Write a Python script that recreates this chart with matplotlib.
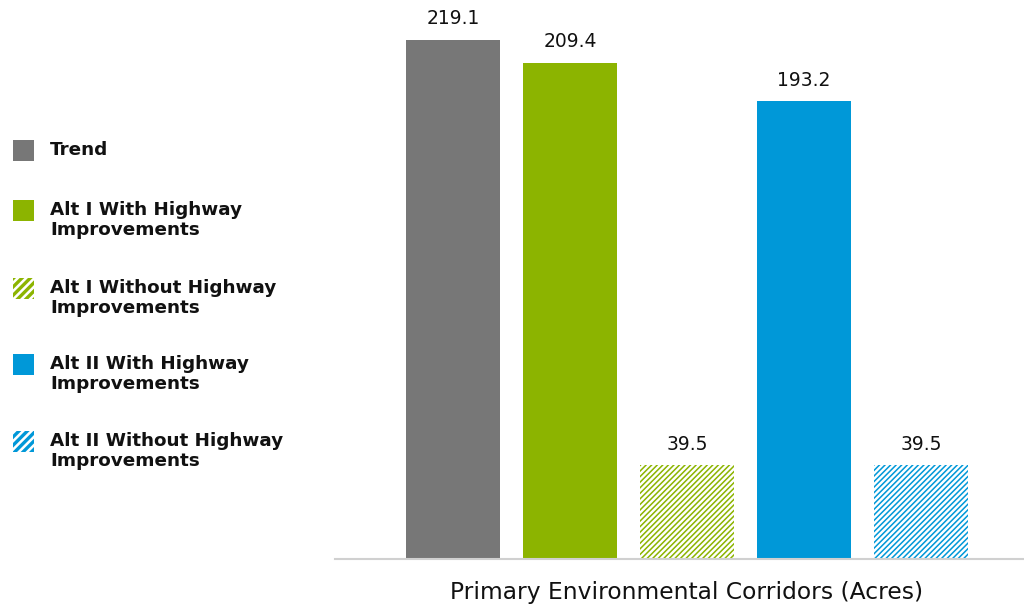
import matplotlib.pyplot as plt
from matplotlib.patches import Rectangle

# data
labels = ['Trend', 'Alt I With Highway\nImprovements', 'Alt I Without Highway\nImprovements',
          'Alt II With Highway\nImprovements', 'Alt II Without Highway\nImprovements']
values = [219.1, 209.4, 39.5, 193.2, 39.5]
colors = ['#777777', '#8cb400', '#8cb400', '#0098d8', '#0098d8']
hatched = [False, False, True, False, True]

plt.rcParams['hatch.linewidth'] = 1.1

fig = plt.figure(figsize=(10.24, 6.05), dpi=100)
ax = fig.add_axes([0.327, 0.076, 0.673, 0.924])

for i, v in enumerate(values):
    if hatched[i]:
        ax.bar(i, v, width=0.8, facecolor='white', edgecolor=colors[i], hatch='//////', linewidth=0)
    else:
        ax.bar(i, v, width=0.8, color=colors[i], linewidth=0)
    ax.text(i, v + 5, f'{v:.1f}', ha='center', va='bottom', fontsize=13.5, color='#111111')

ax.set_xlim(-1.01, 4.88)
ax.set_ylim(0, 236)
for s in ['top', 'right', 'left']:
    ax.spines[s].set_visible(False)
ax.spines['bottom'].set_color('#d0d0d0')
ax.spines['bottom'].set_linewidth(1.5)
ax.set_xticks([])
ax.set_yticks([])
ax.text(2, -0.06, 'Primary Environmental Corridors (Acres)', transform=ax.get_xaxis_transform(),
        ha='center', va='center', fontsize=16.8, color='#111111')

# legend drawn by hand on the left, thicker stripes for the icons
plt.rcParams['hatch.linewidth'] = 2.4
W, H = 1024, 605
sq_tops = [140, 200, 278, 354, 431]
for i, lab in enumerate(labels):
    y0 = sq_tops[i]
    if hatched[i]:
        r = Rectangle((13 / W, 1 - (y0 + 21) / H), 21 / W, 21 / H, transform=fig.transFigure,
                      facecolor='white', edgecolor=colors[i], hatch='////', linewidth=0)
    else:
        r = Rectangle((13 / W, 1 - (y0 + 21) / H), 21 / W, 21 / H, transform=fig.transFigure,
                      facecolor=colors[i], linewidth=0)
    fig.patches.append(r)
    fig.text(50 / W, 1 - (y0 + 1) / H, lab, ha='left', va='top', fontsize=13.2,
             fontweight='bold', color='#111111', linespacing=1.15)

fig.savefig('out.png', dpi=100)
